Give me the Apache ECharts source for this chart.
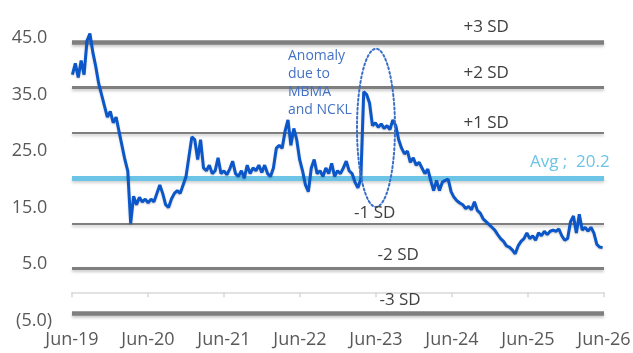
<!DOCTYPE html>
<html>
<head>
<meta charset="utf-8">
<script src="https://cdn.jsdelivr.net/npm/echarts@6/dist/echarts.min.js"></script>
<style>
  html, body { margin: 0; padding: 0; background: #fff; }
  #chart { width: 633px; height: 353px; }
</style>
</head>
<body>
<div id="chart"></div>
<script>
// Forward P/E, sampled every two weeks from early June 2019
const startDate = '2019-06-03';
const stepDays = 14;
const peValues = [
  38.5, 40.5, 38.0, 41.0, 38.5, 44.5, 45.8, 42.5, 40.0, 37.0,
  35.0, 33.0, 31.0, 32.0, 30.0, 31.0, 28.5, 26.0, 23.5, 21.5,
  12.2, 17.0, 15.5, 16.8, 16.0, 16.5, 15.8, 16.5, 16.0, 17.5,
  19.0, 17.5, 15.5, 15.0, 16.5, 17.5, 18.0, 17.5, 19.0, 20.5,
  24.0, 27.5, 27.0, 23.5, 27.0, 22.0, 21.5, 22.5, 21.0, 21.5,
  23.8, 21.0, 21.5, 20.8, 21.8, 23.2, 21.0, 20.5, 21.5, 20.2,
  22.5, 21.0, 22.0, 21.5, 22.5, 21.2, 22.5, 21.0, 20.5, 22.0,
  25.5, 26.0, 25.5, 28.5, 30.5, 26.0, 29.0, 27.0, 23.5, 21.5,
  19.0, 17.8, 22.0, 23.5, 21.0, 21.5, 20.5, 22.0, 21.0, 22.8,
  20.5, 21.5, 21.0, 22.0, 23.2, 21.5, 21.0, 19.5, 18.5, 20.0,
  35.5, 35.0, 33.5, 29.5, 30.0, 29.2, 29.8, 29.0, 29.5, 28.8,
  30.5, 29.5, 27.0, 25.5, 24.5, 25.0, 23.0, 23.8, 22.5, 23.0,
  22.0, 21.0, 21.8, 19.8, 18.0, 19.8, 18.0, 19.5, 19.8, 20.0,
  17.8, 16.8, 16.2, 15.8, 15.5, 14.8, 15.2, 14.6, 16.0, 14.5,
  14.0, 13.0, 12.5, 12.0, 11.5, 11.0, 10.2, 9.5, 9.0, 8.2,
  8.0, 7.5, 6.8, 8.2, 9.0, 9.5, 10.5, 9.5, 10.0, 9.2,
  10.5, 10.0, 10.8, 10.2, 10.8, 11.0, 10.8, 11.2, 10.0, 9.2,
  9.5, 12.5, 13.5, 10.5, 13.8, 11.0, 11.5, 10.8, 11.5, 10.5,
  8.5, 8.0, 7.9
];

// Band statistics
const avgPE = 20.2;
const sdPE = 8.0;
const sdSteps = [3, 2, 1, -1, -2, -3];
const sdLabels = ['+3 SD', '+2 SD', '+1 SD', '-1 SD', '-2 SD', '-3 SD'];

// x axis: months since June 2019, one tick per June
const xTickYears = ['19', '20', '21', '22', '23', '24', '25', '26'];

const DAY = 86400000;
const MONTH_DAYS = 365.25 / 12;
const origin = Date.UTC(2019, 5, 1);
const start = Date.parse(startDate + 'T00:00:00Z');
const lineData = peValues.map((v, i) => {
  const t = start + i * stepDays * DAY;
  return [(t - origin) / DAY / MONTH_DAYS, v];
});

const FONT = '"Open Sans", "Liberation Sans", sans-serif';
const GREY = '#7f7f7f';
const bandWidth = { 3: 4.5, 2: 3, 1: 2 };

const bandLines = sdSteps.map(k => ({
  yAxis: +(avgPE + k * sdPE).toFixed(2),
  lineStyle: {
    color: GREY, width: bandWidth[Math.abs(k)], type: 'solid',
    shadowColor: 'rgba(0,0,0,0.22)', shadowBlur: 3, shadowOffsetY: 2
  }
}));
bandLines.push({
  yAxis: avgPE,
  lineStyle: {
    color: '#6cc4e6', width: 5, type: 'solid',
    shadowColor: 'rgba(0,0,0,0.18)', shadowBlur: 3, shadowOffsetY: 2
  }
});

const chart = echarts.init(document.getElementById('chart'), null, { renderer: 'canvas' });

const xRange = { min: 0, max: 84, interval: 12 };

chart.setOption({
  animation: false,
  backgroundColor: '#ffffff',
  grid: { left: 72, right: 29, top: 38, bottom: 32.5, outerBoundsMode: 'none', containLabel: false },
  xAxis: [
    {
      // labels along the bottom edge
      type: 'value', ...xRange,
      position: 'bottom',
      splitLine: { show: false },
      axisLine: { show: false, onZero: false },
      axisTick: { show: false },
      axisLabel: {
        margin: 10,
        color: '#595959',
        fontFamily: FONT,
        fontSize: 18,
        showMinLabel: true, showMaxLabel: true,
        formatter: v => 'Jun-' + xTickYears[Math.round(v / 12)]
      }
    },
    {
      // axis line and ticks at zero
      type: 'value', ...xRange,
      position: 'bottom',
      splitLine: { show: false },
      axisLine: { show: true, onZero: true, lineStyle: { color: '#d9d9d9', width: 1.5 } },
      axisTick: { show: true, length: 5, lineStyle: { color: '#d9d9d9', width: 1.5 } },
      axisLabel: { show: false }
    }
  ],
  yAxis: {
    type: 'value',
    min: -5, max: 45, interval: 10,
    splitLine: { show: false },
    axisLine: { show: false },
    axisTick: { show: false },
    axisLabel: {
      margin: 20,
      color: '#595959',
      fontFamily: FONT,
      fontSize: 18,
      formatter: v => v < 0 ? '(' + Math.abs(v).toFixed(1) + ')' : v.toFixed(1) + ' '
    }
  },
  series: [
    {
      name: 'bands',
      type: 'line',
      data: [],
      z: 1,
      silent: true,
      markLine: {
        silent: true,
        symbol: ['none', 'none'],
        label: { show: false },
        data: bandLines
      }
    },
    {
      name: 'P/E',
      type: 'line',
      data: lineData,
      xAxisIndex: 0,
      z: 5,
      clip: false,
      showSymbol: false,
      lineStyle: {
        color: '#0b57c9', width: 3,
        shadowColor: 'rgba(0,0,0,0.2)', shadowBlur: 2, shadowOffsetY: 1
      }
    }
  ]
});

// Band captions and the annotation, placed in data coordinates
function px(x, y) { return chart.convertToPixel({ xAxisIndex: 0, yAxisIndex: 0 }, [x, y]); }

const captionMonth = { 3: 65.4, 2: 65.4, 1: 65.4, '-1': 47.8, '-2': 51.5, '-3': 51.8 };
const captionLift = { 3: 15, 2: 15, 1: 10, '-1': 10, '-2': 13, '-3': 14 };

const graphics = sdSteps.map((k, i) => {
  const p = px(captionMonth[k], avgPE + k * sdPE);
  return {
    type: 'text', z: 10,
    x: p[0], y: p[1] - captionLift[k],
    style: {
      text: sdLabels[i], fill: '#404040',
      font: '17px ' + FONT, textAlign: 'center', textVerticalAlign: 'middle'
    }
  };
});

const avgPos = px(78.6, avgPE);
graphics.push({
  type: 'text', z: 10,
  x: avgPos[0], y: avgPos[1] - 16,
  style: {
    text: 'Avg ;  ' + avgPE.toFixed(1), fill: '#6cc4e6',
    font: '17px ' + FONT, textAlign: 'center', textVerticalAlign: 'middle'
  }
});

// Dotted ellipse around the 2023 listing spike
const eC = px(48.0, 29.1);
const eTop = px(48.0, 43.1);
const eSide = px(51.0, 29.1);
graphics.push({
  type: 'ellipse', z: 8, silent: true,
  shape: { cx: eC[0], cy: eC[1], rx: eSide[0] - eC[0], ry: eC[1] - eTop[1] },
  style: { fill: 'none', stroke: '#3a6fc9', lineWidth: 2, lineDash: [2, 2.5], lineCap: 'round' }
});

const notePos = px(34.1, 43.0);
graphics.push({
  type: 'text', z: 10,
  x: notePos[0], y: notePos[1] - 2,
  style: {
    text: 'Anomaly\ndue to\nMBMA\nand NCKL', fill: '#4472c4',
    font: '14px ' + FONT, lineHeight: 18, textAlign: 'left', textVerticalAlign: 'top'
  }
});

chart.setOption({ graphic: graphics });
</script>
</body>
</html>
